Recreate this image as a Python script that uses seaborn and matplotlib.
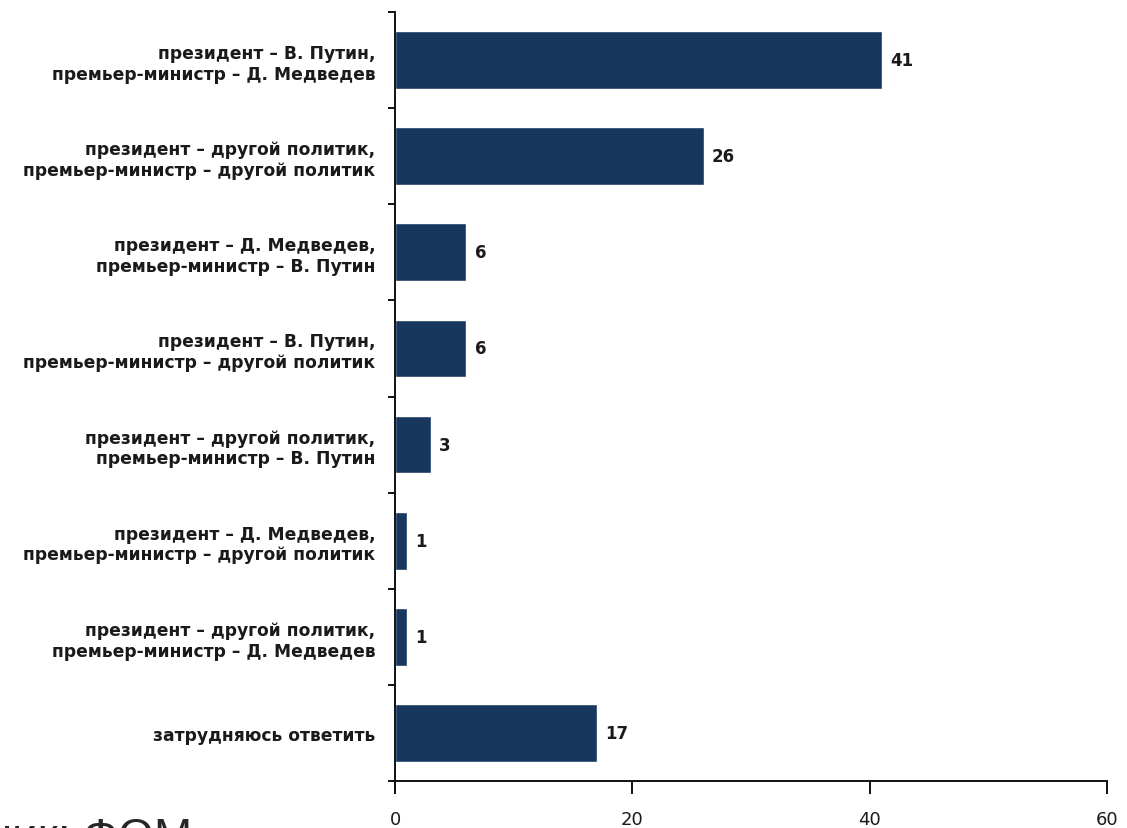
import pandas as pd
import matplotlib.pyplot as plt
import seaborn as sns
from matplotlib.ticker import FixedLocator

bar_color = '#17375e'

categories = [
    'президент – В. Путин,\nпремьер-министр – Д. Медведев',
    'президент – другой политик,\nпремьер-министр – другой политик',
    'президент – Д. Медведев,\nпремьер-министр – В. Путин',
    'президент – В. Путин,\nпремьер-министр – другой политик',
    'президент – другой политик,\nпремьер-министр – В. Путин',
    'президент – Д. Медведев,\nпремьер-министр – другой политик',
    'президент – другой политик,\nпремьер-министр – Д. Медведев',
    'затрудняюсь ответить',
]
values = [41, 26, 6, 6, 3, 1, 1, 17]
x_ticks = [0, 20, 40, 60]
source = 'Источник: ФОМ'

df = pd.DataFrame({'answer': categories, 'pct': values})

sns.set_style('white')
plt.rcParams['font.family'] = ['DejaVu Sans']

fig = plt.figure(figsize=(11.27, 8.29), dpi=100)
ax = fig.add_axes([0.3505, 0.0567, 0.6318, 0.9276])

sns.barplot(data=df, y='answer', x='pct', orient='h', color=bar_color,
            saturation=1, width=0.6, ax=ax)

for c in ax.containers:
    ax.bar_label(c, labels=[str(v) for v in values], padding=6, fontsize=12,
                 color='#1a1a1a', fontweight='bold')

ax.set_xlim(0, 60)
ax.set_ylim(len(categories) - 0.5, -0.5)
ax.set_xticks(x_ticks)
ax.set_xlabel('')
ax.set_ylabel('')

sns.despine(ax=ax)
for s in ['left', 'bottom']:
    ax.spines[s].set_color('#111111')
    ax.spines[s].set_linewidth(1.4)

# ticks on y at the boundaries between categories
ax.yaxis.set_minor_locator(FixedLocator([i - 0.5 for i in range(len(categories) + 1)]))
ax.tick_params(axis='y', which='major', length=0, pad=14, labelsize=12.3,
               labelcolor='#1a1a1a')
for lbl in ax.get_yticklabels():
    lbl.set_fontweight('bold')
ax.tick_params(axis='y', which='minor', length=5, width=1.4, direction='out',
               color='#111111', left=True)
ax.tick_params(axis='x', which='major', length=9, width=1.4, direction='out',
               color='#111111', pad=12, labelsize=13, labelcolor='#1a1a1a',
               bottom=True)
ax.spines['left'].set_bounds(len(categories) - 0.5 + 0.08, -0.5)

# source note, partly outside the picture as in the original
fig.text(192 / 1127, -0.026, source, ha='right', va='baseline',
         fontsize=33, family=['Liberation Sans', 'DejaVu Sans'])

plt.savefig('out.png', dpi=100)
